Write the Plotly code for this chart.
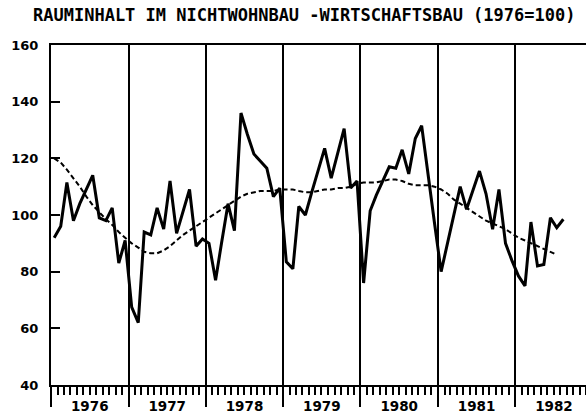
import plotly.graph_objects as go

title_text = "RAUMINHALT IM NICHTWOHNBAU -WIRTSCHAFTSBAU (1976=100)"
y_ticks = [40, 60, 80, 100, 120, 140, 160]
start_year = 1976

# monthly index values, Jan 1976 .. Aug 1982
actual = [
    92, 96, 111.5, 98, 104, 109, 114, 99, 98, 102.5, 83, 91,          # 1976
    67.5, 62, 94, 93, 102.5, 95, 112, 93.5, 101, 109, 89, 91.5,       # 1977
    90, 77, 90, 104, 94.5, 136, 128.5, 121.5, 119, 116.5, 106.5, 109.5,  # 1978
    83.5, 81, 103, 100, 108, 115.5, 123.5, 113, 121.5, 130.5, 109.5, 112,  # 1979
    76, 101.5, 107, 112, 117, 116.5, 123, 114.5, 127, 131.5, 113, 97,  # 1980
    80, 90, 100, 110, 102, 108.5, 115.5, 107.5, 95, 109, 90, 84,      # 1981
    78.5, 75, 97.5, 82, 82.5, 99, 95.5, 98.5,                          # 1982
]

# trend (dashed), Jan 1976 .. Jul 1982
trend = [
    120, 118.5, 116, 113, 110, 106.5, 103.5, 101, 98.5, 96.5, 94, 92,   # 1976
    90, 88.5, 87, 86.5, 86.5, 87.5, 89, 91, 93, 94.5, 96, 97.5,         # 1977
    99, 100.5, 102, 103.5, 105, 106.5, 107.5, 108, 108.5, 108.5, 108.5, 109,  # 1978
    109, 109, 108.5, 108, 108, 108.5, 109, 109, 109.5, 109.5, 110, 111,  # 1979
    111.5, 111.5, 111.5, 112, 112.5, 112.5, 112, 111, 110.5, 110.5, 110.5, 110,  # 1980
    109, 107.5, 105.5, 104, 102.5, 101, 99.5, 98, 97, 96, 95, 93.5,      # 1981
    92, 91, 90, 89, 88, 87, 86,                                          # 1982
]


def month_dates(n):
    return [f"{start_year + i // 12}-{i % 12 + 1:02d}-16" for i in range(n)]


W, H = 586, 415
L, R, T, B = 51, 0, 45, 30

fig = go.Figure()
fig.add_trace(go.Scatter(
    x=month_dates(len(actual)), y=actual, mode="lines",
    line=dict(color="black", width=3),
    showlegend=False, hoverinfo="skip"))
fig.add_trace(go.Scatter(
    x=month_dates(len(trend)), y=trend, mode="lines",
    line=dict(color="black", width=2, dash="5px,3px"),
    showlegend=False, hoverinfo="skip"))

y_font = dict(family="DejaVu Sans", size=13, color="black", weight="bold")
x_font = dict(family="DejaVu Sans", size=13.5, color="black", weight="bold")

fig.update_layout(
    width=W, height=H,
    margin=dict(l=L, r=R, t=T, b=B, autoexpand=False),
    paper_bgcolor="white", plot_bgcolor="white",
    title=dict(text=title_text, x=33 / W, xanchor="left", xref="container",
               y=1 - 15 / H, yanchor="middle", yref="container",
               font=dict(family="DejaVu Sans Mono", size=17, color="black", weight="bold")),
    xaxis=dict(
        type="date", range=["1976-01-01", "1982-12-01"],
        tick0="1976-01-01", dtick="M12", tickformat="%Y",
        ticklabelmode="period", automargin=False,
        ticks="outside", ticklen=20, tickwidth=2, tickcolor="black",
        showgrid=True, gridcolor="black", gridwidth=2,
        showline=True, linecolor="black", linewidth=2, mirror=True,
        zeroline=False, tickfont=x_font, ticklabelstandoff=-12,
        minor=dict(dtick="M1", tick0="1976-01-01", ticks="outside", ticklen=8,
                   tickwidth=1.5, tickcolor="black", showgrid=False),
    ),
    yaxis=dict(
        range=[40, 160], tickmode="array", tickvals=y_ticks,
        ticktext=[str(v) for v in y_ticks], automargin=False,
        ticks="inside", ticklen=9, tickwidth=2, tickcolor="black",
        showgrid=False, zeroline=False,
        showline=True, linecolor="black", linewidth=2, mirror=False,
        tickfont=y_font, ticklabelstandoff=8,
    ),
)

fig.write_html("out.html", config={"displayModeBar": False},
               post_script="document.body.style.margin='0';")
